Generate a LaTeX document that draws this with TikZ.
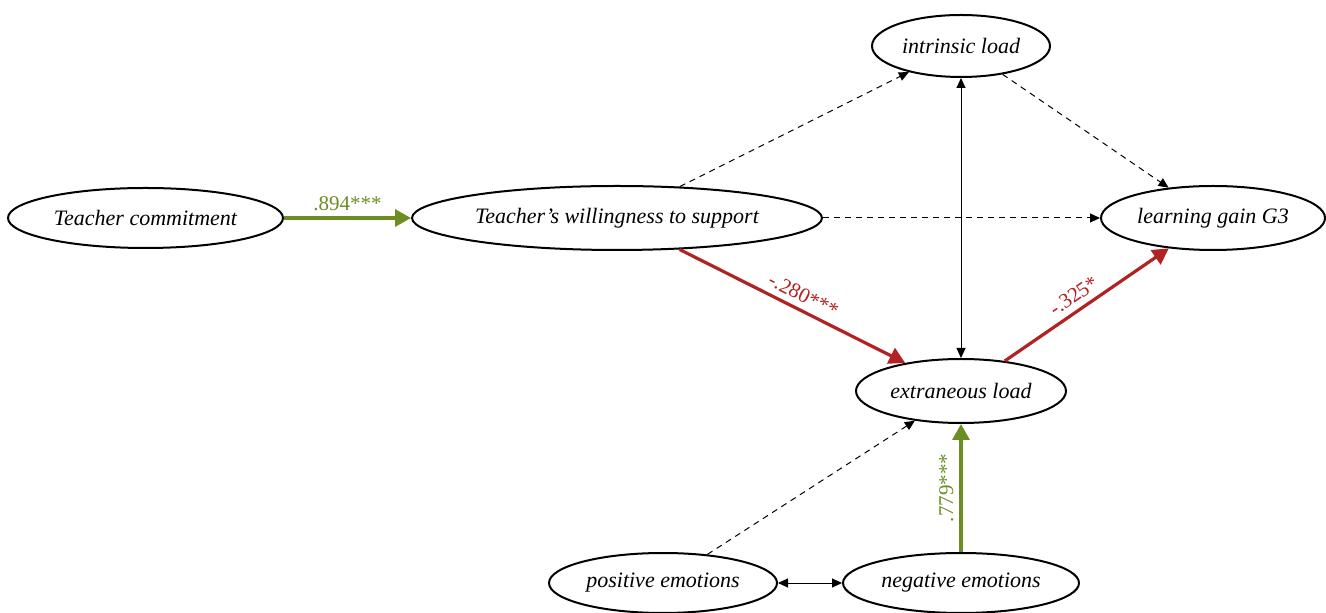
\documentclass[tikz,border=0pt]{standalone}
\usepackage{fontspec}
\setmainfont{Liberation Serif}
\usetikzlibrary{shapes.geometric,arrows.meta}
\definecolor{cgreen}{HTML}{6B8E23}
\definecolor{cred}{HTML}{B22222}
\begin{document}
\begin{tikzpicture}[x=0.5pt,y=-0.5pt,
  lat/.style={ellipse,draw,line width=1pt,inner sep=0pt,font=\itshape\fontsize{11}{13}\selectfont},
  dsh/.style={dash pattern=on 3pt off 2.5pt,line width=0.5pt,-{Triangle[length=5pt,width=4.5pt]}},
  blk/.style={line width=0.5pt,{Triangle[length=5pt,width=4.5pt]}-{Triangle[length=5pt,width=4.5pt]}},
  grn/.style={draw=cgreen,line width=1.6pt,-{Triangle[length=8pt,width=8.5pt]}},
  rd/.style={draw=cred,line width=1.6pt,-{Triangle[length=8pt,width=8.5pt]}},
  lbl/.style={font=\fontsize{10.5}{12}\selectfont,inner sep=3pt}
]
\useasboundingbox (0,0) rectangle (1326,613);
\node[lat,minimum width=137.5pt,minimum height=30pt] (tc) at (145.5,218) {Teacher commitment};
\node[lat,minimum width=205pt,minimum height=32pt] (tw) at (617,218) {Teacher’s willingness to support};
\node[lat,minimum width=89pt,minimum height=31pt] (il) at (961,46) {intrinsic load};
\node[lat,minimum width=112pt,minimum height=32pt] (lg) at (1213,218) {learning gain G3};
\node[lat,minimum width=105pt,minimum height=32pt] (el) at (961,391) {extraneous load};
\node[lat,minimum width=114pt,minimum height=30pt] (pe) at (663,583) {positive emotions};
\node[lat,minimum width=118pt,minimum height=30pt] (ne) at (961,583) {negative emotions};

\draw[grn] (tc) -- node[lbl,above,text=cgreen] {.894***} (tw);
\draw[dsh] (tw) -- (il);
\draw[dsh] (il) -- (lg);
\draw[dsh] (tw) -- (lg);
\draw[blk] (il) -- (el);
\draw[rd] (tw) -- node[lbl,pos=0.52,sloped,above,text=cred] {-.280***} (el);
\draw[rd] (el) -- node[lbl,pos=0.47,sloped,above,text=cred] {-.325*} (lg);
\draw[dsh] (pe) -- (el);
\draw[grn] (ne) -- node[lbl,pos=0.5,sloped,above,text=cgreen] {.779***} (el);
\draw[blk] (pe) -- (ne);
\end{tikzpicture}
\end{document}
